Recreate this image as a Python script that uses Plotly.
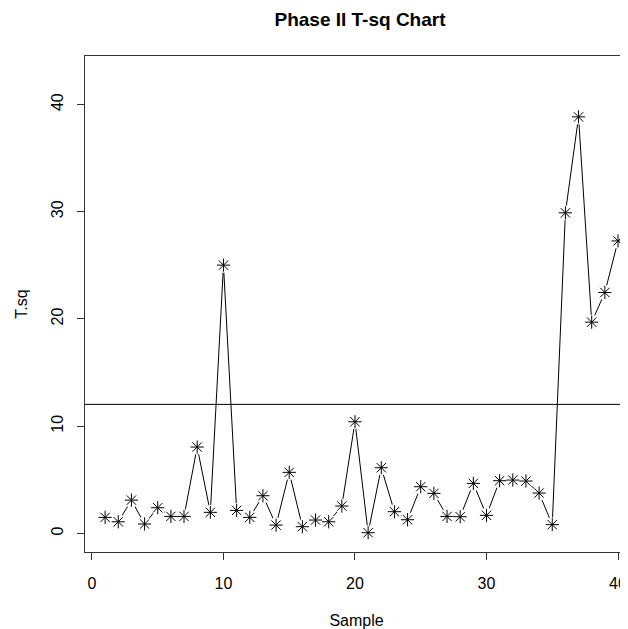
import plotly.graph_objects as go

sample = list(range(1, 41))
t_sq = [1.49, 1.08, 3.10, 0.87, 2.39, 1.58, 1.58, 8.05, 1.96, 25.02,
        2.14, 1.49, 3.51, 0.77, 5.69, 0.62, 1.24, 1.08, 2.55, 10.41,
        0.06, 6.12, 2.02, 1.27, 4.35, 3.73, 1.58, 1.55, 4.66, 1.68,
        4.91, 4.97, 4.88, 3.76, 0.81, 29.9, 38.85, 19.7, 22.47, 27.28]
ucl = 12.03
x_ticks = [0, 10, 20, 30, 40]
y_ticks = [0, 10, 20, 30, 40]

FONT = "Liberation Sans, Arial, Helvetica, sans-serif"
W, H = 620, 621  # page body has an 8px margin

fig = go.Figure()
fig.add_trace(go.Scatter(x=sample, y=t_sq, mode="lines",
                         line=dict(color="black", width=1), hoverinfo="skip"))
# white discs to emulate R's type="b" gaps around points
fig.add_trace(go.Scatter(x=sample, y=t_sq, mode="markers",
                         marker=dict(symbol="circle", size=15, color="white",
                                     line=dict(width=0)), hoverinfo="skip"))
fig.add_trace(go.Scatter(x=sample, y=t_sq, mode="markers",
                         marker=dict(symbol="asterisk-open", size=11, color="black",
                                     line=dict(color="black", width=1))))

fig.add_shape(type="line", xref="paper", x0=0, x1=1, yref="y", y0=ucl, y1=ucl,
              line=dict(color="black", width=1), layer="below")

fig.update_layout(
    width=W, height=H,
    margin=dict(l=77, r=0, t=48, b=77, pad=0),
    paper_bgcolor="white", plot_bgcolor="white",
    showlegend=False,
    font=dict(family=FONT, color="black", size=16),
    title=dict(text="<b>Phase II T-sq Chart</b>", x=352 / W, xanchor="center",
               xref="container", yref="container",
               y=1 - 11 / H, yanchor="middle", automargin=False,
               font=dict(family=FONT, size=19, color="black")),
    xaxis=dict(range=[-0.53, 40.76], tickvals=x_ticks, ticks="outside",
               ticklen=7, tickcolor="#333", showgrid=False, zeroline=False,
               showline=True, linecolor="#333", linewidth=1, mirror=True,
               automargin=False, ticklabelstandoff=10,
               tickfont=dict(size=16), title=dict(text="Sample", standoff=25,
                                                  font=dict(size=16))),
    yaxis=dict(range=[-1.74, 44.53], tickvals=y_ticks, ticks="outside",
               ticklen=7, tickcolor="#333", showgrid=False, zeroline=False,
               showline=True, linecolor="#333", linewidth=1,
               automargin=False, ticklabelstandoff=8,
               tickangle=-90, tickfont=dict(size=16),
               title=dict(text="T.sq", standoff=16, font=dict(size=16))),
)

fig.write_html("out.html")
